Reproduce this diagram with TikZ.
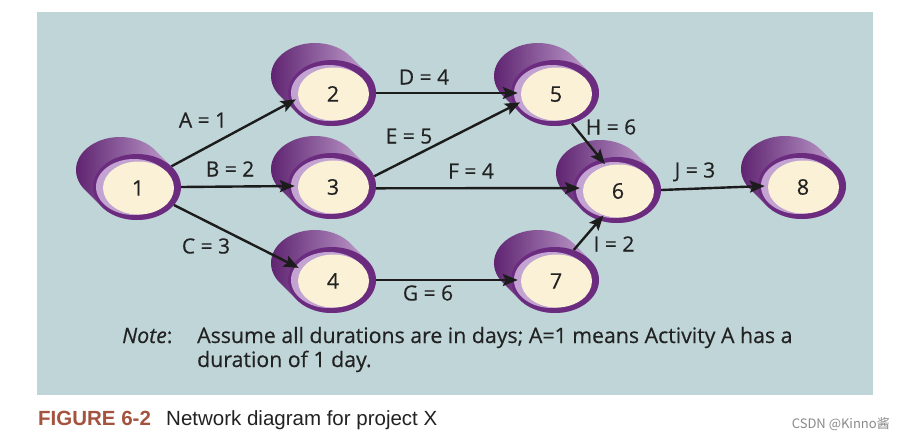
\documentclass[tikz,border=0pt]{standalone}
\usepackage{fontspec}
\setmainfont{Open Sans}[FakeBold=0.4]
\newfontfamily\capfont{Liberation Sans}
\newfontfamily\cjkfont{Noto Sans CJK SC}
\usetikzlibrary{arrows.meta,shapes.geometric}
\definecolor{bgc}{HTML}{BFD5D8}
\definecolor{pdark}{HTML}{5A1D6C}
\definecolor{plight}{HTML}{CDB0DA}
\definecolor{pring}{HTML}{6B2C80}
\definecolor{plav}{HTML}{C3A3D1}
\definecolor{creamc}{HTML}{FBF1D6}
\definecolor{arrowc}{HTML}{1C1C1C}
\definecolor{txtc}{HTML}{222222}
\definecolor{figc}{HTML}{A4533F}
\definecolor{wmc}{HTML}{8A8A8A}
\tikzset{
  conn/.style={draw=arrowc, line width=2.4pt, -{Stealth[length=15pt,width=12pt,inset=3pt]}},
  lbl/.style={font=\fontsize{21}{24}\selectfont, text=txtc, inner sep=0pt, text height=15pt, text depth=0pt},
  numlbl/.style={font=\fontsize{21.5}{24}\selectfont, text=txtc, inner sep=0pt, text height=15.3pt, text depth=0pt},
  outerE/.style={ellipse, minimum width=88pt, minimum height=66pt, inner sep=0pt},
  innerE/.style={ellipse, minimum width=74pt, minimum height=54pt, inner sep=0pt},
  notetxt/.style={font=\fontsize{21.3}{24}\selectfont, text=txtc, inner sep=0pt, anchor=base west},
}
\newcommand{\pertnode}[3]{%
  \shade[left color=pdark, right color=plight] (#2,#3) ++(-36.87:44 and 33)
    arc[start angle=-36.87, end angle=143.13, x radius=44, y radius=33]
    -- ++(-17,-17)
    arc[start angle=143.13, end angle=323.13, x radius=44, y radius=33] -- cycle;
  \fill[pring] (#2,#3) ellipse[x radius=44, y radius=33];
  \fill[plav] (#2-3,#3) ellipse[x radius=38, y radius=28];
  \fill[creamc] (#2+1.5,#3+1) ellipse[x radius=35.5, y radius=26.5];
  \node[outerE] (o#1) at (#2,#3) {};
  \node[innerE] (i#1) at (#2,#3) {};
  \node[numlbl] (n#1) at (#2+1,#3+1) {#1};
}
\begin{document}
\begin{tikzpicture}[x=1pt,y=-1pt]
  \useasboundingbox (0,0) rectangle (906,439);
  \fill[white] (0,0) rectangle (906,439);
  \fill[bgc] (37,12) rectangle (873,395);

  \pertnode{1}{137}{187}
  \pertnode{2}{332}{93}
  \pertnode{3}{332}{186}
  \pertnode{4}{332}{280}
  \pertnode{5}{555}{93}
  \pertnode{6}{617}{190}
  \pertnode{7}{555}{280}
  \pertnode{8}{802}{186}

  \draw[conn] (o1.31) -- (i2.190);
  \draw[conn] (o1.east) -- (i3.west);
  \draw[conn] (o1.-26) -- (i4.160);
  \draw[conn] (o2.east) -- (i5.west);
  \draw[conn] (o3.13) -- (i5.195);
  \draw[conn] (o3.-3) -- (i6.177);
  \draw[conn] (o4.east) -- (i7.west);
  \draw[conn] (o5.-61) -- (i6.115);
  \draw[conn] (o7.58) -- (i6.242);
  \draw[conn] (o6.east) -- (i8.west);

  \node[lbl] (la) at (203,120) {A = 1};
  \node[lbl] (lb) at (230,169) {B = 2};
  \node[lbl] (lc) at (206,246) {C = 3};
  \node[lbl] (ld) at (424,77) {D = 4};
  \node[lbl] (le) at (409,136) {E = 5};
  \node[lbl] (lf) at (471,171) {F = 4};
  \node[lbl] (lg) at (428,293) {G = 6};
  \node[lbl] (lh) at (611,127) {H = 6};
  \node[lbl] (li) at (614,244) {I = 2};
  \node[lbl] (lj) at (695,170) {J = 3};

  \node[notetxt] (note) at (122,343) {\itshape Note\upshape:};
  \node[notetxt] (l1) at (197,343) {Assume all durations are in days; A=1 means Activity A has a};
  \node[notetxt] (l2) at (197,367) {duration of 1 day.};

  \node[inner sep=0pt, anchor=base west] (fig) at (38,425)
    {\capfont\fontsize{20.5}{24}\selectfont\textcolor{figc}{\bfseries FIGURE 6-2}};
  \node[inner sep=0pt, anchor=base west] (cap) at (166,425)
    {\capfont\fontsize{20.5}{24}\selectfont\textcolor{txtc}{Network diagram for project X}};
  \node[inner sep=0pt, anchor=base east] (wm) at (890,428)
    {\cjkfont\fontsize{13}{15}\selectfont\textcolor{wmc}{CSDN @Kinno酱}};
\end{tikzpicture}
\end{document}
